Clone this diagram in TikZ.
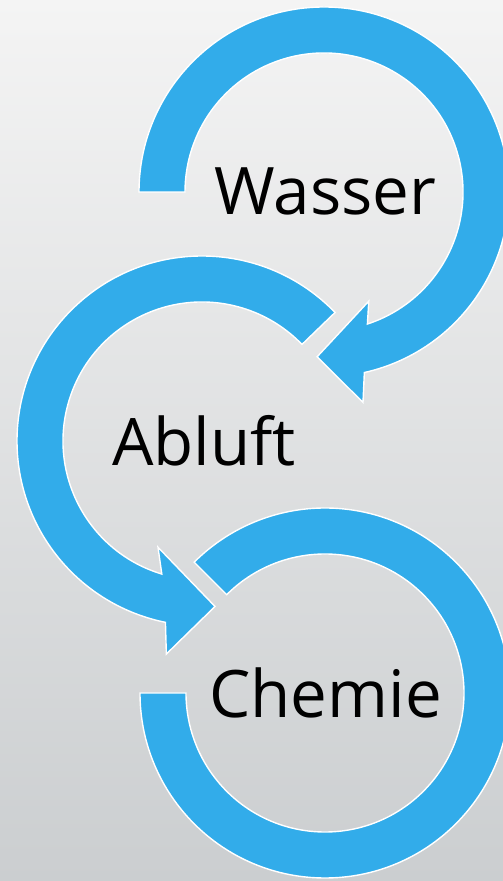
\documentclass[tikz,border=0pt]{standalone}
\usepackage{fontspec}
\setmainfont{Open Sans}
\definecolor{arrowblue}{RGB}{50,172,234}
\definecolor{bgtop}{RGB}{244,244,244}
\definecolor{bgmid}{RGB}{236,237,237}
\definecolor{bgbot}{RGB}{203,206,208}
\tikzset{
  ringarrow/.style={fill=arrowblue, draw=white, line width=1.4pt, line join=miter},
  label/.style={font=\fontsize{65.5}{70}\selectfont, text=black, anchor=base, inner sep=0pt}
}
\begin{document}
\begin{tikzpicture}[x=1pt,y=1pt]
\useasboundingbox (0,0) rectangle (503,881);
\shade[top color=bgtop, middle color=bgmid, bottom color=bgbot] (0,0) rectangle (503,881);
\clip (0,0) rectangle (503,881);
% Chemie ring
\begin{scope}[shift={(325,188)}]
  \path[ringarrow] (180:185) arc[start angle=180, end angle=495, radius=185]
    -- (495:139) arc[start angle=495, end angle=180, radius=139] -- cycle;
\end{scope}
% Abluft arrow
\begin{scope}[shift={(202,440)}]
  \path[ringarrow] (44:185) arc[start angle=44, end angle=258.6, radius=185]
    -- (260.5:216) -- (274.5:166) -- (247.5:115) -- (253.2:139)
    arc[start angle=253.2, end angle=44, radius=139] -- cycle;
\end{scope}
% Wasser arrow
\begin{scope}[shift={(324,689)}]
  \path[ringarrow] (180:185) arc[start angle=180, end angle=-77.4, radius=185]
    -- (-79.5:214) -- (-92.4:165) -- (-67.7:118) -- (-71.8:139)
    arc[start angle=-71.8, end angle=180, radius=139] -- cycle;
\end{scope}
\node[label] (wasser) at (325.5,666) {Wasser};
\node[label] (abluft) at (204,415) {Abluft};
\node[label] (chemie) at (325.5,163) {Chemie};
\end{tikzpicture}
\end{document}
